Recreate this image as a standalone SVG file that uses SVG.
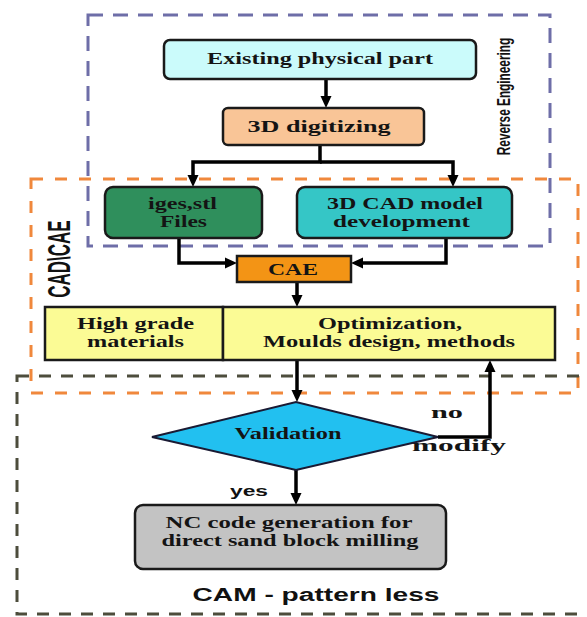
<svg xmlns="http://www.w3.org/2000/svg" width="587" height="617" viewBox="0 0 587 617">
<defs>
<marker id="ah" markerUnits="userSpaceOnUse" markerWidth="12" markerHeight="12" refX="6" refY="6" orient="auto"><path d="M0,0.5 L12,6 L0,11.5 z" fill="#000"/></marker>
</defs>
<style>
.box{stroke:#1a1a1a;stroke-width:2.5}
.t{font-family:"Liberation Serif","Times New Roman",serif;font-weight:bold;font-size:16.5px;fill:#141414;text-anchor:middle}
.s{font-family:"Liberation Sans",Arial,sans-serif;font-weight:bold;fill:#111;text-anchor:middle}
.c{fill:none;stroke:#000;stroke-width:3.5;marker-end:url(#ah)}
.dash{fill:none;stroke-width:3}
</style>
<rect width="587" height="617" fill="#fff"/>

<g id="regions">
<rect id="reverse-engineering" class="dash" x="88" y="15" width="462" height="231" stroke="#6e6ea8" stroke-dasharray="15 10"/>
<rect id="cad-cae" class="dash" x="31" y="179" width="547" height="214" stroke="#f0883c" stroke-dasharray="12 12"/>
<rect id="cam" class="dash" x="17" y="376" width="590" height="238" stroke="#4d4d3c" stroke-dasharray="12 10"/>
<text class="s" font-size="11.8" transform="translate(510,96.5) rotate(-90) scale(1,1.6)">Reverse Engineering</text>
<text class="s" font-size="17" transform="translate(70,259) rotate(-90) scale(1,1.85)">CAD\CAE</text>
</g>

<g id="connectors">
<path class="c" d="M326,79 V102"/>
<path class="c" d="M320,145 V162 H193 V181"/>
<path class="c" d="M320,162 H453 V181"/>
<path class="c" d="M179,238 V263 H231"/>
<path class="c" d="M446,238 V263 H357"/>
<path class="c" d="M297,282 V301"/>
<path class="c" d="M297,360 V396"/>
<path class="c" d="M438,437 H490 V366"/>
<path class="c" d="M296,470 V499"/>
<text class="t" font-size="18" x="447" y="418" textLength="32" lengthAdjust="spacingAndGlyphs">no</text>
<text class="t" font-size="18" x="459" y="451" textLength="94" lengthAdjust="spacingAndGlyphs">modify</text>
<text class="s" font-size="15" x="249" y="496" textLength="38" lengthAdjust="spacingAndGlyphs">yes</text>
</g>

<g id="existing">
<rect class="box" x="164" y="40" width="312" height="39" rx="6" fill="#cbfbfb"/>
<text class="t" font-size="17" x="320" y="64" textLength="226" lengthAdjust="spacingAndGlyphs" fill="#1a3333">Existing physical part</text>
</g>

<g id="digitizing">
<rect class="box" x="223" y="108" width="201" height="37" rx="5" fill="#f9c597"/>
<text class="t" font-size="17" x="319" y="132" textLength="143" lengthAdjust="spacingAndGlyphs">3D digitizing</text>
</g>

<g id="iges">
<rect class="box" x="105" y="187" width="157" height="51" rx="8" fill="#2f8f5c"/>
<text class="t" x="182.5" y="209" textLength="69" lengthAdjust="spacingAndGlyphs">iges,stl</text>
<text class="t" x="183.5" y="227" textLength="47" lengthAdjust="spacingAndGlyphs">Files</text>
</g>

<g id="cad-model">
<rect class="box" x="297" y="187" width="215" height="51" rx="8" fill="#35c6c6"/>
<text class="t" x="405" y="209" textLength="156" lengthAdjust="spacingAndGlyphs">3D CAD model</text>
<text class="t" x="401.5" y="227" textLength="137" lengthAdjust="spacingAndGlyphs">development</text>
</g>

<g id="cae">
<rect class="box" x="237" y="256" width="114" height="26" fill="#f39415"/>
<text class="t" font-size="15" x="293" y="275" textLength="50" lengthAdjust="spacingAndGlyphs">CAE</text>
</g>

<g id="materials">
<rect class="box" x="45" y="307" width="178" height="53" fill="#fbfb95"/>
<text class="t" x="135.5" y="329" textLength="117" lengthAdjust="spacingAndGlyphs">High grade</text>
<text class="t" x="135.5" y="347" textLength="97" lengthAdjust="spacingAndGlyphs">materials</text>
</g>

<g id="optimization">
<rect class="box" x="223" y="307" width="332" height="53" fill="#fbfb95"/>
<text class="t" x="390" y="329" textLength="144" lengthAdjust="spacingAndGlyphs">Optimization,</text>
<text class="t" x="389" y="347" textLength="252" lengthAdjust="spacingAndGlyphs">Moulds design, methods</text>
</g>

<g id="validation">
<polygon points="152,437 296,402 438,437 296,470" fill="#22c0f0" stroke="#1a1a33" stroke-width="2"/>
<text class="t" x="288" y="439" textLength="107" lengthAdjust="spacingAndGlyphs" fill="#1c2f5e">Validation</text>
</g>

<g id="nc-code">
<rect class="box" x="135" y="505" width="311" height="64" rx="8" fill="#c3c3c3" stroke="#444"/>
<text class="t" x="289" y="528" textLength="247" lengthAdjust="spacingAndGlyphs" fill="#222">NC code generation for</text>
<text class="t" x="290" y="546" textLength="257" lengthAdjust="spacingAndGlyphs" fill="#222">direct sand block milling</text>
</g>

<text class="s" font-size="18" x="316" y="601" textLength="247" lengthAdjust="spacingAndGlyphs">CAM - pattern less</text>
</svg>
